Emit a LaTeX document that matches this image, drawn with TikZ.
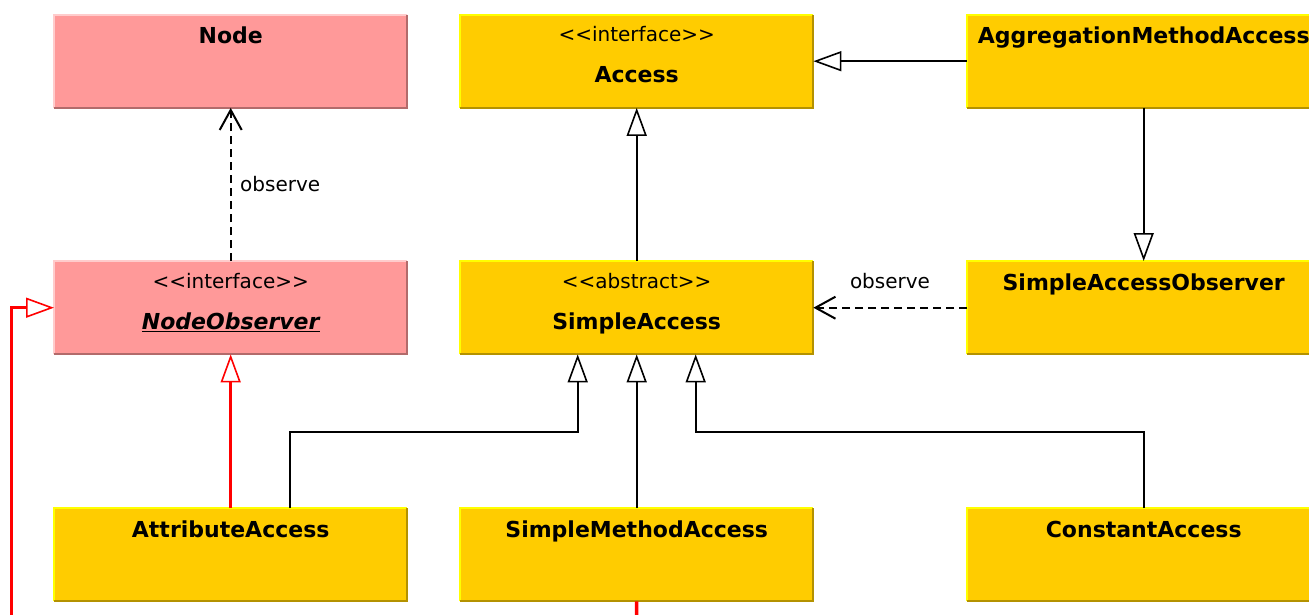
\documentclass[tikz,border=0pt]{standalone}
\usepackage{fontspec}
\setmainfont{DejaVu Sans}
\usetikzlibrary{arrows.meta}
\definecolor{gold}{HTML}{FFCC00}
\definecolor{goldlight}{HTML}{FFFF00}
\definecolor{golddark}{RGB}{180,146,0}
\definecolor{pinkfill}{HTML}{FF9999}
\definecolor{pinklight}{HTML}{FFCCCC}
\definecolor{pinkdark}{RGB}{178,107,107}
\definecolor{redline}{HTML}{FF0000}
\tikzset{
  umlbox/.style={rectangle, minimum width=353pt, minimum height=93pt, inner sep=0pt, anchor=north west},
  goldbox/.style={umlbox, fill=gold},
  pinkbox/.style={umlbox, fill=pinkfill},
  title/.style={anchor=base, inner sep=0pt, font=\fontsize{22}{26}\selectfont\bfseries},
  stereo/.style={anchor=base, inner sep=0pt, font=\fontsize{20}{24}\selectfont},
  lbl/.style={inner sep=0pt, font=\fontsize{20}{24}\selectfont},
  gen/.style={line width=2pt, black, -{Triangle[length=28pt, width=20pt, fill=white, line width=1.6pt]}},
  redgen/.style={line width=3.5pt, redline, -{Triangle[length=28pt, width=20pt, fill=white, line width=1.6pt]}},
  dep/.style={line width=2pt, black, dash pattern=on 8pt off 5pt, -{Straight Barb[length=20pt, width=22pt, line width=2pt]}},
}
\newcommand{\goldborder}[1]{%
  \draw[goldlight, line width=2pt] (#1.south west) |- (#1.north east);
  \draw[golddark, line width=2pt] (#1.north east) |- (#1.south west);}
\newcommand{\pinkborder}[1]{%
  \draw[pinklight, line width=2pt] (#1.south west) |- (#1.north east);
  \draw[pinkdark, line width=2pt] (#1.north east) |- (#1.south west);}
\newcommand{\ltlt}{<\kern0pt<\kern0pt}
\newcommand{\gtgt}{>\kern0pt>}
\begin{document}
\begin{tikzpicture}[x=1pt, y=-1pt]
\useasboundingbox[fill=white] (0,0) rectangle (1309,614);
% boxes
\node[pinkbox] (nd) at (54,14.5) {};
\node[goldbox] (ac) at (460,14.5) {};
\node[goldbox] (am) at (967,14.5) {};
\node[pinkbox] (no) at (54,261) {};
\node[goldbox] (sa) at (460,261) {};
\node[goldbox] (sao) at (967,261) {};
\node[goldbox] (aa) at (54,508) {};
\node[goldbox] (sma) at (460,508) {};
\node[goldbox] (ca) at (967,508) {};
\pinkborder{nd}\goldborder{ac}\goldborder{am}
\pinkborder{no}\goldborder{sa}\goldborder{sao}
\goldborder{aa}\goldborder{sma}\goldborder{ca}
% texts
\node[title] (ndT) at ([yshift=-29pt]nd.north) {Node};
\node[stereo] (acS) at ([yshift=-27pt]ac.north) {\ltlt interface\gtgt};
\node[title] (acT) at ([yshift=-68pt]ac.north) {Access};
\node[title] (amT) at ([yshift=-29pt]am.north) {AggregationMethodAccess};
\node[stereo] (noS) at ([yshift=-27pt]no.north) {\ltlt interface\gtgt};
\node[title] (noT) at ([yshift=-68pt]no.north) {\itshape\underline{NodeObserver}};
\node[stereo] (saS) at ([yshift=-27pt]sa.north) {\ltlt abstract\gtgt};
\node[title] (saT) at ([yshift=-68pt]sa.north) {SimpleAccess};
\node[title] (saoT) at ([yshift=-29pt]sao.north) {SimpleAccessObserver};
\node[title] (aaT) at ([yshift=-29pt]aa.north) {AttributeAccess};
\node[title] (smaT) at ([yshift=-29pt]sma.north) {SimpleMethodAccess};
\node[title] (caT) at ([yshift=-29pt]ca.north) {ConstantAccess};
% helper coordinates
\coordinate (bus) at (0,432);
\coordinate (aaR) at ([xshift=59pt]aa.north);
\coordinate (saL) at ([xshift=-59pt]sa.south);
\coordinate (saR) at ([xshift=59pt]sa.south);
\coordinate (offB) at (636.5,640);
\coordinate (offL) at (11.5,640);
% connectors
\draw[dep] (no.north) -- (nd.south);
\node[lbl, anchor=base west] (obs1) at (240,191) {observe};
\draw[gen] (sa.north) -- (ac.south);
\draw[gen] (am.west) -- (ac.east);
\draw[gen] (am.south) -- (sao.north);
\draw[dep] (sao.west) -- (sa.east);
\node[lbl, anchor=base] (obs2) at (890,288) {observe};
\draw[redgen] (aa.north) -- (no.south);
\draw[gen] (aaR) -- (aaR |- bus) -| (saL);
\draw[gen] (sma.north) -- (sa.south);
\draw[gen] (ca.north) -- (ca.north |- bus) -| (saR);
\draw[redline, line width=3.5pt] (sma.south) -- (offB);
\draw[redgen] (offL) |- (no.west);
\end{tikzpicture}
\end{document}
